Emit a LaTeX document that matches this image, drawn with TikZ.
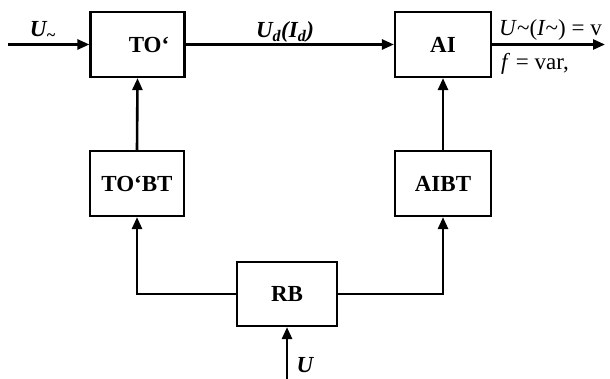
\documentclass[tikz,border=0pt]{standalone}
\usepackage{fontspec}
\setmainfont{Liberation Serif}
\usetikzlibrary{arrows.meta}
\begin{document}
\begin{tikzpicture}[x=1pt,y=-1pt,
  blk/.style={draw,line width=2.2pt,minimum width=94pt,minimum height=65pt,inner sep=0pt,
    font=\fontsize{23}{26}\selectfont\bfseries},
  conn/.style={line width=2.6pt},
  arr/.style={conn,-{Triangle[length=12pt,width=10pt]}},
  lab/.style={font=\fontsize{23}{26}\selectfont\bfseries\itshape,inner sep=0pt},
  olab/.style={font=\fontsize{23}{26}\selectfont,inner sep=0pt,anchor=west}]
\useasboundingbox (0,0) rectangle (610,379);
\node[blk] (to) at (137.5,44.5) {};
\node[font=\fontsize{23}{26}\selectfont\bfseries,inner sep=0pt] (tot) at (149,44.5) {TO‘};
\node[blk,minimum width=96pt] (ai) at (443,44.5) {AI};
\node[blk] (tobt) at (137,183.5) {TO‘BT};
\node[blk,minimum width=96pt] (aibt) at (443,183.5) {AIBT};
\node[blk,minimum width=100pt,minimum height=64pt] (rb) at (287,294) {RB};
\coordinate (in) at (8,44.5);
\coordinate (out) at (605,44.5);
\coordinate (ub) at (287,381);
\draw[arr] (in) -- (to.west);
\draw[arr] (to.east) -- (ai.west);
\draw[arr] (ai.east) -- (out);
\draw[arr] (tobt.north) -- (to.south);
\draw[arr] (aibt.north) -- (ai.south);
\draw[arr] (rb.west) -| (tobt.south);
\draw[arr] (rb.east) -| (aibt.south);
\draw[arr] (ub) -- (rb.south);
\node[lab] (lu) at (43,31) {U\textsubscript{\textasciitilde}};
\node[lab] (lud) at (285,32) {U\textsubscript{d}(I\textsubscript{d})};
\node[olab] (lo1) at (499,30) {\textit{U}\textasciitilde(\textit{I}\textasciitilde) = v};
\node[olab] (lo2) at (501,64) {\textit{f} = var,};
\node[lab] (lub) at (305,365) {U};
\end{tikzpicture}
\end{document}
